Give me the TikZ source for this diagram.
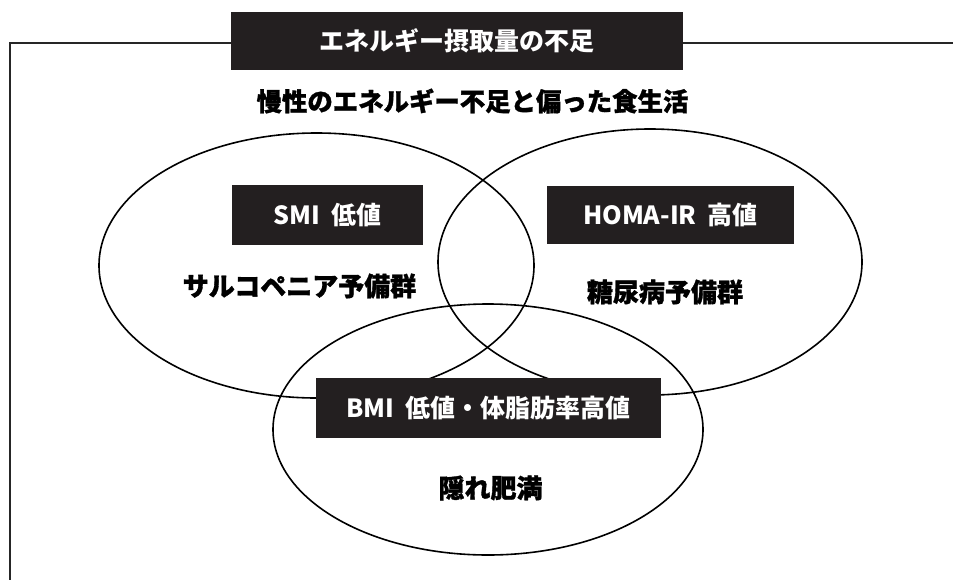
\documentclass[tikz,border=0pt]{standalone}
\usepackage{fontspec}
\setmainfont{Noto Sans CJK JP}
\newfontfamily\heavyjp{Noto Sans CJK JP}[BoldFeatures={FakeBold=1.2}]
\usetikzlibrary{shapes.geometric}
\definecolor{boxfill}{HTML}{231F20}
\tikzset{
  vennell/.style={draw=black, line width=1.6pt, ellipse, inner sep=0pt},
  darkbox/.style={fill=boxfill, text=white, inner sep=0pt, font=\bfseries\fontsize{25}{30}\selectfont},
  biglabel/.style={text=black, inner sep=0pt, font=\heavyjp\bfseries\fontsize{26}{30}\selectfont},
  framelinestyle/.style={draw=black!85, line width=1.8pt}
}
\begin{document}
\begin{tikzpicture}[x=1pt,y=-1pt]
\useasboundingbox (0,0) rectangle (953,579);
% frame
\coordinate (fbl) at (10,580);
\coordinate (ftl) at (10,43);
\coordinate (ftr) at (954,43);
\draw[framelinestyle] (fbl) -- (ftl) -- (ftr);
% ellipses
\node[vennell, minimum width=435, minimum height=265] (L) at (316.5,265.5) {};
\node[vennell, minimum width=424, minimum height=266] (R) at (650,262) {};
\node[vennell, minimum width=430, minimum height=251] (B) at (488,429.5) {};
% title
\node[darkbox, minimum width=452, minimum height=58] (title) at (457,41) {エネルギー摂取量の不足};
\node[biglabel, font=\heavyjp\bfseries\fontsize{25.4}{30}\selectfont] (sub) at (472.5,101) {慢性のエネルギー不足と偏った食生活};
% boxes
\node[darkbox, minimum width=191, minimum height=60] (smi) at (327.5,215) {SMI\ \ 低値};
\node[darkbox, minimum width=247, minimum height=58] (homa) at (670.5,215) {HOMA-IR\ \ 高値};
\node[darkbox, minimum width=345, minimum height=60] (bmi) at (488.5,408) {BMI\ \ 低値・体脂肪率高値};
% labels
\node[biglabel] (sarco) at (299.5,286) {サルコペニア予備群};
\node[biglabel] (diab) at (665,292) {糖尿病予備群};
\node[biglabel] (obes) at (490.5,488) {隠れ肥満};
\end{tikzpicture}
\end{document}
